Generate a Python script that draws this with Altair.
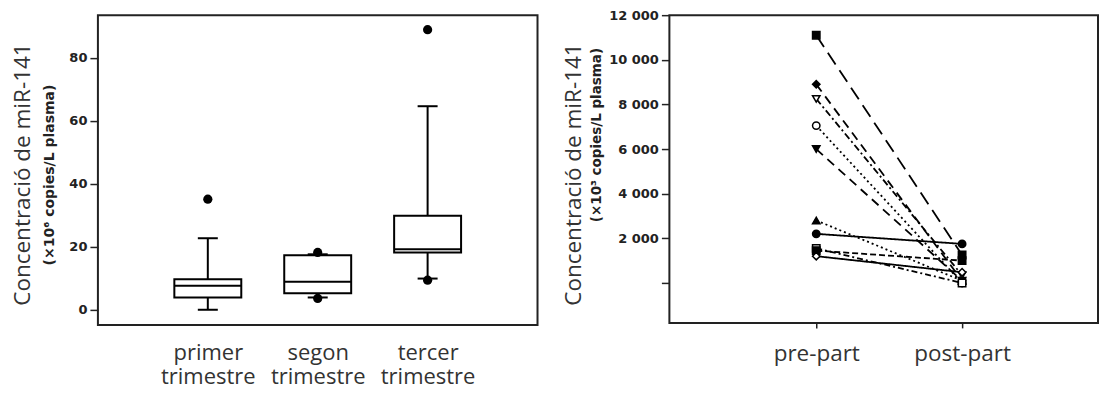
import altair as alt
import pandas as pd

# ---------------- Left panel: box plots ----------------
groups = ["primer trimestre", "segon trimestre", "tercer trimestre"]
whisk_low = [0.0, 3.9, 9.9]
q1 = [3.9, 5.2, 18.2]
median = [7.6, 8.9, 19.2]
q3 = [9.7, 17.3, 29.8]
whisk_high = [22.7, 17.6, 64.6]
outlier_group = ["primer trimestre", "segon trimestre", "segon trimestre",
                 "tercer trimestre", "tercer trimestre"]
outlier_value = [35.1, 18.2, 3.6, 88.9, 9.4]

# ---------------- Right panel: paired lines ----------------
subjects = ["s1", "s2", "s3", "s4", "s5", "s6", "s7", "s8", "s9", "s10"]
pre_part = [11100, 8900, 8250, 7050, 6000, 2800, 2200, 1550, 1450, 1200]
post_part = [1250, 100, 350, 0, 100, 100, 1750, 0, 1000, 480]
shapes = ["square", "diamond", "triangle-down", "circle", "triangle-down",
          "triangle-up", "circle", "square", "square", "diamond"]
filled = [True, True, False, False, True, True, True, False, True, False]
dashes = [[14, 7], [9, 6], [7, 3, 2, 3], [2, 3], [9, 6], [2, 3], [1, 0],
          [6, 3, 2, 3], [6, 3], [1, 0]]

title_main = "Concentració de miR-141"
sub_left = "(×10⁶ copies/L plasma)"
sub_right = "(×10³ copies/L plasma)"

box_df = pd.DataFrame({"g": groups, "lo": whisk_low, "q1": q1, "med": median,
                       "q3": q3, "hi": whisk_high})
out_df = pd.DataFrame({"g": outlier_group, "v": outlier_value})

rows = []
for i, s in enumerate(subjects):
    for p, val in zip([0, 1], [pre_part[i], post_part[i]]):
        rows.append({"s": s, "x": p, "v": val, "shape": shapes[i],
                     "fill": "f" if filled[i] else "o"})
line_df = pd.DataFrame(rows)

LABEL_FONT = "DejaVu Sans"
BIG_FONT = "Open Sans"

xL = alt.X("g:N", sort=groups,
           scale=alt.Scale(type="point", padding=1, domain=groups),
           axis=alt.Axis(title=None, labelAngle=0, ticks=False, domain=False,
                         labelFont=BIG_FONT, labelFontSize=22, labelColor="#333",
                         labelPadding=18, labelLineHeight=24,
                         labelExpr="split(datum.label, ' ')"))
yScaleL = alt.Scale(domain=[-4.8, 93.5], nice=False, zero=False)
yAxisL = alt.Axis(title=title_main, values=[0, 20, 40, 60, 80], grid=False,
                  domain=False, tickSize=8, tickWidth=1.5, tickColor="#222",
                  labelFont=LABEL_FONT, labelFontWeight="bold", labelFontSize=13,
                  labelColor="#222", labelPadding=3,
                  titleFont=BIG_FONT, titleFontWeight="normal", titleFontSize=22.5,
                  titleColor="#333", titleX=-75, titleY=159, titleBaseline="middle",
                  titleAngle=270)

base = alt.Chart(box_df)
whisk_lo = base.mark_rule(color="black", strokeWidth=2).encode(
    x=xL, y=alt.Y("lo:Q", scale=yScaleL, axis=yAxisL), y2="q1:Q")
whisk_hi = base.mark_rule(color="black", strokeWidth=2).encode(
    x=xL, y=alt.Y("q3:Q", scale=yScaleL), y2="hi:Q")
boxes = base.mark_bar(size=67, fill="white", stroke="black", strokeWidth=2).encode(
    x=xL, y=alt.Y("q1:Q", scale=yScaleL), y2="q3:Q")
med = base.mark_tick(size=67, thickness=2, color="black", opacity=1).encode(
    x=xL, y=alt.Y("med:Q", scale=yScaleL))
cap_lo = base.mark_tick(size=20, thickness=2, color="black", opacity=1).encode(
    x=xL, y=alt.Y("lo:Q", scale=yScaleL))
cap_hi = base.mark_tick(size=20, thickness=2, color="black", opacity=1).encode(
    x=xL, y=alt.Y("hi:Q", scale=yScaleL))
outs = alt.Chart(out_df).mark_circle(size=85, color="black", opacity=1).encode(
    x=xL, y=alt.Y("v:Q", scale=yScaleL))
subL = alt.Chart(pd.DataFrame({"t": [sub_left]})).mark_text(
    angle=270, font=LABEL_FONT, fontWeight="bold", fontSize=14, color="#222",
    align="center", baseline="middle").encode(
    text="t:N", x=alt.value(-48), y=alt.value(160))

left = alt.layer(whisk_lo, whisk_hi, boxes, med, cap_lo, cap_hi, outs, subL).properties(
    width=440, height=310)

# right
xR = alt.X("x:Q", scale=alt.Scale(domain=[-1.007, 1.932], nice=False, zero=False),
           axis=alt.Axis(title=None, values=[0, 1], grid=False, domain=False,
                         tickSize=5, tickWidth=1.5, tickColor="#222",
                         labelFont=BIG_FONT, labelFontSize=22.5, labelColor="#333",
                         labelPadding=15,
                         labelExpr="datum.value == 0 ? 'pre-part' : 'post-part'"))
yScaleR = alt.Scale(domain=[-1790, 12000], nice=False, zero=False)
yAxisR = alt.Axis(title=title_main, values=[0, 2000, 4000, 6000, 8000, 10000, 12000],
                  grid=False, domain=False, tickSize=8, tickWidth=1.5, tickColor="#222",
                  labelFont=LABEL_FONT, labelFontWeight="bold", labelFontSize=13,
                  labelColor="#222", labelPadding=3,
                  labelExpr="datum.value == 0 ? '' : replace(format(datum.value, ','), ',', ' ')",
                  titleFont=BIG_FONT, titleFontWeight="normal", titleFontSize=22.5,
                  titleColor="#333", titleX=-96, titleY=159, titleBaseline="middle",
                  titleAngle=270)

lines = alt.Chart(line_df).mark_line(color="black", strokeWidth=1.8).encode(
    x=xR, y=alt.Y("v:Q", scale=yScaleR, axis=yAxisR),
    detail="s:N",
    strokeDash=alt.StrokeDash("s:N", scale=alt.Scale(domain=subjects, range=dashes),
                              legend=None))
pts = alt.Chart(line_df).mark_point(filled=True, size=55, stroke="black",
                                    strokeWidth=1.5, opacity=1).encode(
    x=xR, y=alt.Y("v:Q", scale=yScaleR),
    shape=alt.Shape("shape:N", scale=None, legend=None),
    fill=alt.Fill("fill:N", scale=alt.Scale(domain=["f", "o"], range=["black", "white"]),
                  legend=None))
subR = alt.Chart(pd.DataFrame({"t": [sub_right]})).mark_text(
    angle=270, font=LABEL_FONT, fontWeight="bold", fontSize=13.5, color="#222",
    align="center", baseline="middle").encode(
    text="t:N", x=alt.value(-72), y=alt.value(120))

right = alt.layer(lines, pts, subR).properties(width=429, height=308)

chart = alt.hconcat(left, right, spacing=23).properties(
    padding={"left": 11, "top": 8, "right": 0, "bottom": 0},
    background="white"
).configure_view(stroke="#222", strokeWidth=2)

chart.save("out.html", embed_options={"renderer": "svg", "actions": False})
